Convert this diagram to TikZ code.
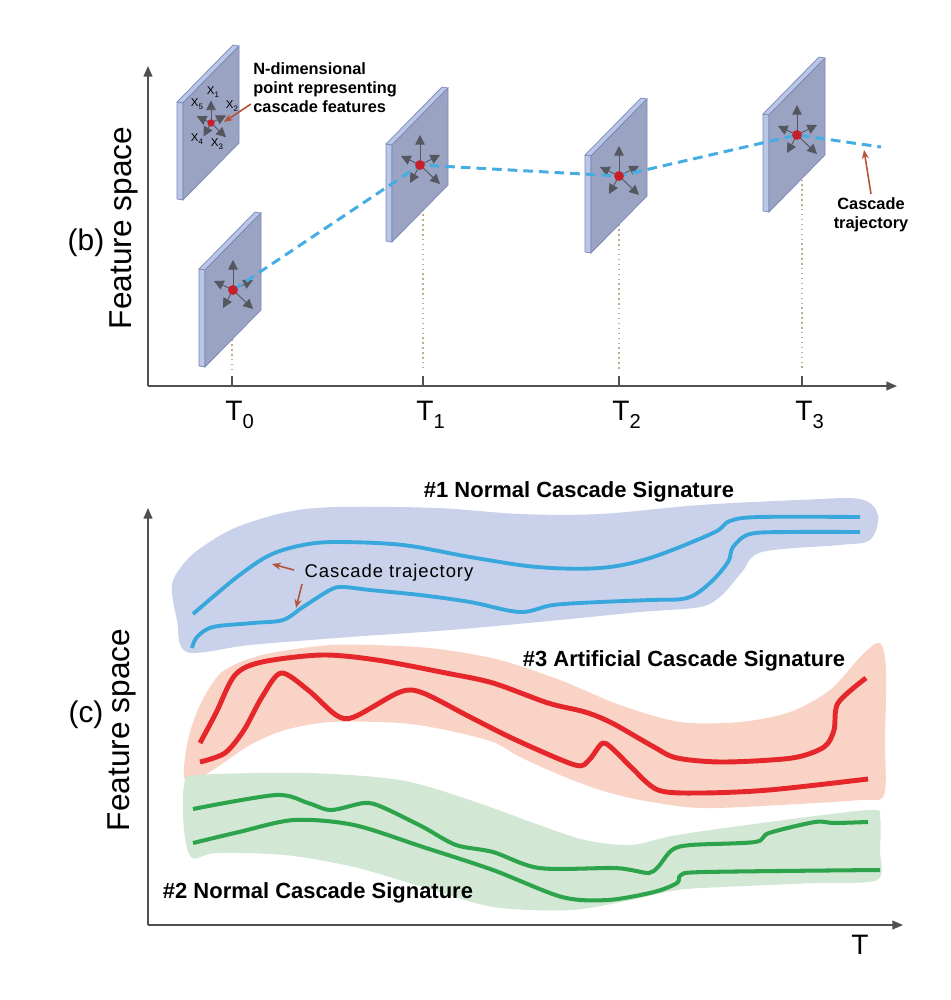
\documentclass[tikz,border=0pt]{standalone}
\usepackage{fontspec}
\setmainfont{Liberation Sans}
\usetikzlibrary{arrows.meta}
\definecolor{axisgray}{HTML}{505050}
\definecolor{panelface}{HTML}{9BA3C3}
\definecolor{panelrim}{HTML}{B9C6E6}
\definecolor{paneledge}{HTML}{7A88B8}
\definecolor{featgray}{HTML}{55575F}
\definecolor{dotred}{HTML}{C8202A}
\definecolor{trajblue}{HTML}{45ADE2}
\definecolor{pointbrown}{HTML}{B4533A}
\definecolor{guidetan}{HTML}{BDAE8A}
\definecolor{bandblue}{HTML}{C9D2EA}
\definecolor{lineblue}{HTML}{38A8DC}
\definecolor{bandred}{HTML}{F9D4C6}
\definecolor{linered}{HTML}{E5262B}
\definecolor{bandgreen}{HTML}{D3E7D5}
\definecolor{linegreen}{HTML}{2DA44C}
\newcommand{\lowidx}[2]{\raisebox{-0.3em}{\fontsize{#1}{#1}\selectfont #2}}
\tikzset{
  axisline/.style={draw=axisgray, line width=0.8pt, -{Triangle[length=6pt,width=5pt]}},
  tickmark/.style={draw=axisgray, line width=0.8pt},
  guide/.style={draw=guidetan, line width=0.8pt, dotted},
  rim/.style={fill=panelrim, draw=paneledge, line width=0.4pt},
  face/.style={fill=panelface, draw=paneledge, line width=0.4pt},
  feat/.style={draw=featgray, fill=featgray, line width=0.5pt, -{Triangle[length=5.5pt,width=5.5pt]}},
  featdot/.style={circle, fill=dotred, inner sep=0pt, minimum size=5.6pt},
  traj/.style={draw=trajblue, line width=1.7pt, dash pattern=on 5.5pt off 3.4pt},
  pointer/.style={draw=pointbrown, line width=0.9pt, -{Stealth[length=5pt,width=4pt]}},
  panellabel/.style={font=\fontsize{17}{19}\selectfont},
  ylab/.style={rotate=90, font=\fontsize{18}{20}\selectfont},
  tlab/.style={anchor=base west, inner sep=0pt, font=\fontsize{16}{18}\selectfont},
  xlab/.style={inner sep=0pt, font=\fontsize{6.5}{7}\selectfont},
  note/.style={inner sep=0pt, align=left, font=\bfseries\fontsize{9.3}{10.8}\selectfont},
  sig/.style={inner sep=0pt, font=\bfseries\fontsize{12.5}{14}\selectfont},
  trajlab/.style={inner sep=0pt, font=\fontsize{10.5}{12}\selectfont\addfontfeature{LetterSpace=5}},
  sigline/.style={line width=#1, line join=round},
}
\begin{document}
\begin{tikzpicture}[x=0.02cm, y=-0.02cm]
\useasboundingbox (0,0) rectangle (950,1000);

\node[panellabel] (lb) at (86,243) {(b)};
\node[ylab] (fsb) at (124,228) {Feature space};
\coordinate (ob) at (148,386);
\coordinate (ybtop) at (148,66);
\coordinate (xbend) at (897,386);
\draw[axisline] (ob) -- (ybtop);
\draw[axisline] (ob) -- (xbend);
\foreach \i/\x in {0/232,1/423,2/619,3/802}{
  \draw[tickmark] (\x,376) -- (\x,386);
  \node[tlab] (t\i) at (\x-7,420) {T\lowidx{11.5}{\i}};
}
\foreach \x/\y in {232/300,423/180,619/190,802/150}
  \draw[guide] (\x,\y) -- (\x,370);
\foreach \n/\x/\y/\s in {p/211/123/0.75,a/233/290/1,b/420/165/1,c/619/176/1,d/797/135/1}{
  \coordinate (c\n) at (\x,\y);
  \begin{scope}[shift={(\x,\y)}]
    \filldraw[rim] (-28,-20) -- (-34,-21) -- (22,-78) -- (28,-77) -- cycle;
    \filldraw[rim] (-28,-20) -- (-34,-21) -- (-34,76) -- (-28,77) -- cycle;
    \filldraw[face] (-28,-20) -- (28,-77) -- (28,20) -- (-28,77) -- cycle;
    \foreach \dx/\dy in {0/-30,-19/-9,20/-10,-10/18,20/19}
      \draw[feat] (0,0) -- (\s*\dx,\s*\dy);
  \end{scope}
}
\coordinate (trajend) at (881,147);
\draw[traj] (ca) -- (cb) -- (cc) -- (cd) -- (trajend);
\foreach \n/\s in {p/0.75,a/1,b/1,c/1,d/1}
  \node[featdot, scale=\s] (\n) at (c\n) {};
\node[xlab] (x1) at (213,92) {X\lowidx{4.5}{1}};
\node[xlab] (x2) at (232,106) {X\lowidx{4.5}{2}};
\node[xlab] (x3) at (217,144) {X\lowidx{4.5}{3}};
\node[xlab] (x4) at (197,139) {X\lowidx{4.5}{4}};
\node[xlab] (x5) at (197,104) {X\lowidx{4.5}{5}};
\node[note, anchor=north west] (ndim) at (253,62) {N-dimensional\\point representing\\cascade features};
\coordinate (ndtail) at (251,104);
\coordinate (ndtip) at (224,122);
\draw[pointer] (ndtail) -- (ndtip);
\node[note, align=center] (ctb) at (871,215) {Cascade\\trajectory};
\coordinate (ctbtip) at (864,150);
\draw[pointer] ([yshift=2pt]ctb.north) -- (ctbtip);

\node[panellabel] (lc) at (86,715) {(c)};
\node[ylab] (fsc) at (122,730) {Feature space};
\coordinate (oc) at (148,925);
\coordinate (yctop) at (148,508);
\coordinate (xcend) at (903,925);
\draw[axisline] (oc) -- (yctop);
\draw[axisline] (oc) -- (xcend);
\node[tlab] (tc) at (851,954) {T};

\fill[bandblue] plot[smooth cycle, tension=0.55] coordinates {(172,585) (185,562) (205,545) (237,527) (287,512) (337,507) (437,508) (520,514) (600,514) (700,505) (800,500) (860,499) (878,515) (870,540) (840,545) (762,552) (742,572) (722,595) (700,607) (640,612) (560,620) (450,630) (350,637) (250,645) (187,652) (177,620)};
\draw[lineblue, sigline=2.2pt] plot[smooth, tension=0.55] coordinates {(193,614) (237,577) (270,555) (303,545) (337,542) (403,545) (470,557) (537,567) (600,568) (650,558) (713,533) (730,521) (760,517) (860,517)};
\draw[lineblue, sigline=2.2pt] plot[smooth, tension=0.55] coordinates {(192,648) (197,637) (213,627) (253,623) (283,620) (303,607) (330,590) (343,587) (370,590) (420,595) (470,602) (520,612) (553,605) (600,602) (650,600) (687,598) (710,583) (728,562) (733,547) (750,534) (790,532) (860,532)};

\fill[bandred] plot[smooth cycle, tension=0.5] coordinates {(184,778) (188,740) (200,705) (222,672) (262,655) (331,645) (400,646) (446,650) (500,660) (560,680) (620,705) (680,722) (740,722) (790,712) (830,690) (862,655) (880,643) (886,670) (885,740) (884,795) (860,800) (780,805) (700,808) (640,800) (600,790) (560,775) (520,757) (493,742) (446,730) (400,723) (331,722) (285,730) (250,745) (216,768) (198,778)};
\draw[linered, sigline=2.8pt] plot[smooth, tension=0.5] coordinates {(200,743) (216,713) (235,675) (262,662) (322,655) (377,660) (446,673) (493,683) (548,703) (585,712) (612,723) (654,747) (677,758) (723,762) (792,758) (824,747) (834,730) (838,703) (866,678)};
\draw[linered, sigline=2.8pt] plot[smooth, tension=0.5] coordinates {(200,762) (225,753) (244,730) (262,697) (281,673) (308,690) (336,715) (354,717) (400,692) (423,693) (470,717) (516,740) (575,765) (589,760) (603,743) (617,753) (631,767) (658,790) (700,793) (769,790) (868,779)};

\fill[bandgreen] plot[smooth cycle, tension=0.5] coordinates {(184,785) (198,775) (308,773) (400,780) (470,800) (539,825) (585,840) (631,845) (677,835) (769,822) (870,810) (880,818) (880,850) (877,880) (815,883) (723,887) (677,890) (631,900) (571,910) (493,907) (423,887) (354,867) (285,855) (216,853) (192,858) (184,830)};
\draw[linegreen, sigline=2.3pt] plot[smooth, tension=0.5] coordinates {(193,809) (276,795) (308,803) (331,810) (364,803) (382,807) (423,827) (456,845) (493,852) (539,868) (612,868) (631,870) (649,873) (658,867) (672,850) (691,845) (755,842) (769,833) (815,822) (834,823) (868,822)};
\draw[linegreen, sigline=2.3pt] plot[smooth, tension=0.5] coordinates {(193,843) (239,832) (294,820) (354,825) (423,847) (493,870) (562,897) (608,900) (654,892) (677,883) (681,875) (705,872) (880,870)};

\node[sig] (s1) at (579,492) {\#1 Normal Cascade Signature};
\node[sig] (s3) at (684,661) {\#3 Artificial Cascade Signature};
\node[sig] (s2) at (318,893) {\#2 Normal Cascade Signature};
\node[trajlab] (ctc) at (389,573) {Cascade trajectory};
\coordinate (ctctail1) at (294,570);
\coordinate (ctctip1) at (272,564);
\coordinate (ctctail2) at (302,584);
\coordinate (ctctip2) at (296,608);
\draw[pointer] (ctctail1) -- (ctctip1);
\draw[pointer] (ctctail2) -- (ctctip2);
\end{tikzpicture}
\end{document}
